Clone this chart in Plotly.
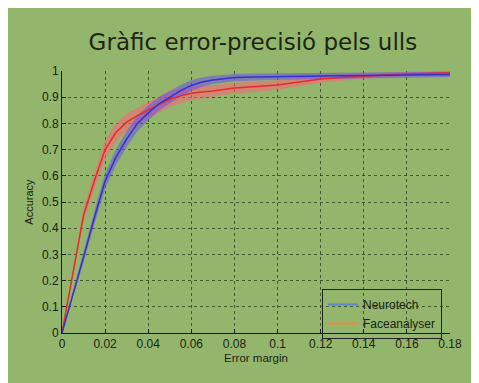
import plotly.graph_objects as go

error_margin = [0, 0.005, 0.01, 0.015, 0.02, 0.025, 0.03, 0.035, 0.04, 0.045, 0.05, 0.055,
                0.06, 0.065, 0.07, 0.08, 0.09, 0.10, 0.11, 0.12, 0.13, 0.14, 0.15, 0.16, 0.17, 0.18]
neurotech = [0, 0.14, 0.29, 0.44, 0.58, 0.67, 0.74, 0.80, 0.84, 0.875, 0.90, 0.925,
             0.945, 0.958, 0.966, 0.975, 0.977, 0.979, 0.980, 0.981, 0.982, 0.983, 0.984, 0.985, 0.986, 0.987]
neurotech_err = [0, 0.01, 0.02, 0.025, 0.03, 0.03, 0.03, 0.03, 0.028, 0.026, 0.024, 0.022,
                 0.02, 0.018, 0.016, 0.014, 0.013, 0.012, 0.011, 0.01, 0.01, 0.01, 0.01, 0.01, 0.01, 0.01]
faceanalyser = [0, 0.23, 0.45, 0.58, 0.70, 0.765, 0.805, 0.83, 0.85, 0.872, 0.893, 0.905,
                0.915, 0.920, 0.924, 0.935, 0.940, 0.947, 0.958, 0.969, 0.975, 0.981, 0.985, 0.989, 0.991, 0.993]
faceanalyser_err = [0, 0.015, 0.025, 0.03, 0.035, 0.035, 0.033, 0.03, 0.03, 0.03, 0.03, 0.028,
                    0.026, 0.024, 0.022, 0.02, 0.02, 0.018, 0.016, 0.014, 0.012, 0.01, 0.01, 0.008, 0.008, 0.008]
x_ticks = [0, 0.02, 0.04, 0.06, 0.08, 0.1, 0.12, 0.14, 0.16, 0.18]
y_ticks = [0, 0.1, 0.2, 0.3, 0.4, 0.5, 0.6, 0.7, 0.8, 0.9, 1]

fig = go.Figure()

def band(x, y, e, fill):
    upper = [a + b for a, b in zip(y, e)]
    lower = [a - b for a, b in zip(y, e)]
    fig.add_trace(go.Scatter(x=x + x[::-1], y=upper + lower[::-1], fill="toself",
                             fillcolor=fill, line=dict(width=0), mode="lines",
                             showlegend=False, hoverinfo="skip"))

band(error_margin, faceanalyser, faceanalyser_err, "rgba(255,95,120,0.55)")
band(error_margin, neurotech, neurotech_err, "rgba(105,80,235,0.55)")
fig.add_trace(go.Scatter(x=error_margin, y=faceanalyser, mode="lines",
                         line=dict(color="#e82a2a", width=1.5), showlegend=False))
fig.add_trace(go.Scatter(x=error_margin, y=neurotech, mode="lines",
                         line=dict(color="#3333cc", width=1.5), showlegend=False))
# legend entries (MATLAB-style legend colours)
fig.add_trace(go.Scatter(x=[None], y=[None], mode="lines", name="Neurotech",
                         line=dict(color="#5f86c8", width=2)))
fig.add_trace(go.Scatter(x=[None], y=[None], mode="lines", name="Faceanalyser",
                         line=dict(color="#ec8a45", width=2)))

panel = "#94b56c"
fig.update_layout(
    width=471, height=375,
    margin=dict(l=54, r=29, t=63, b=50),
    paper_bgcolor=panel, plot_bgcolor="rgba(0,0,0,0)",
    font=dict(family="Liberation Sans, Arial, sans-serif", color="#1a2412", size=12),
    title=dict(text="Gràfic error-precisió pels ulls", x=0.52, xanchor="center",
               y=0.909, yanchor="middle",
               font=dict(family="DejaVu Sans, sans-serif", size=23, color="#1c2614")),
    xaxis=dict(range=[0, 0.18], tickvals=x_ticks, showline=True, linecolor="#1a1a1a",
               linewidth=1, ticks="inside", ticklen=4, tickcolor="#1a1a1a",
               showgrid=True, gridcolor="rgba(40,60,30,0.75)", griddash="dot", gridwidth=1,
               zeroline=False, title=dict(text="Error margin", font=dict(size=11.5), standoff=3),
               tickfont=dict(size=12)),
    yaxis=dict(range=[0, 1], tickvals=y_ticks, showline=True, linecolor="#1a1a1a",
               linewidth=1, ticks="inside", ticklen=4, tickcolor="#1a1a1a",
               showgrid=True, gridcolor="rgba(40,60,30,0.75)", griddash="dot", gridwidth=1,
               zeroline=False, title=dict(text="Accuracy", font=dict(size=11), standoff=6),
               tickfont=dict(size=12)),
    legend=dict(x=0.67, y=0.168, xanchor="left", yanchor="top", bgcolor="rgba(0,0,0,0)",
                bordercolor="#222", borderwidth=1, font=dict(size=12),
                tracegroupgap=0, itemwidth=30),
)
fig.write_html("out.html")
